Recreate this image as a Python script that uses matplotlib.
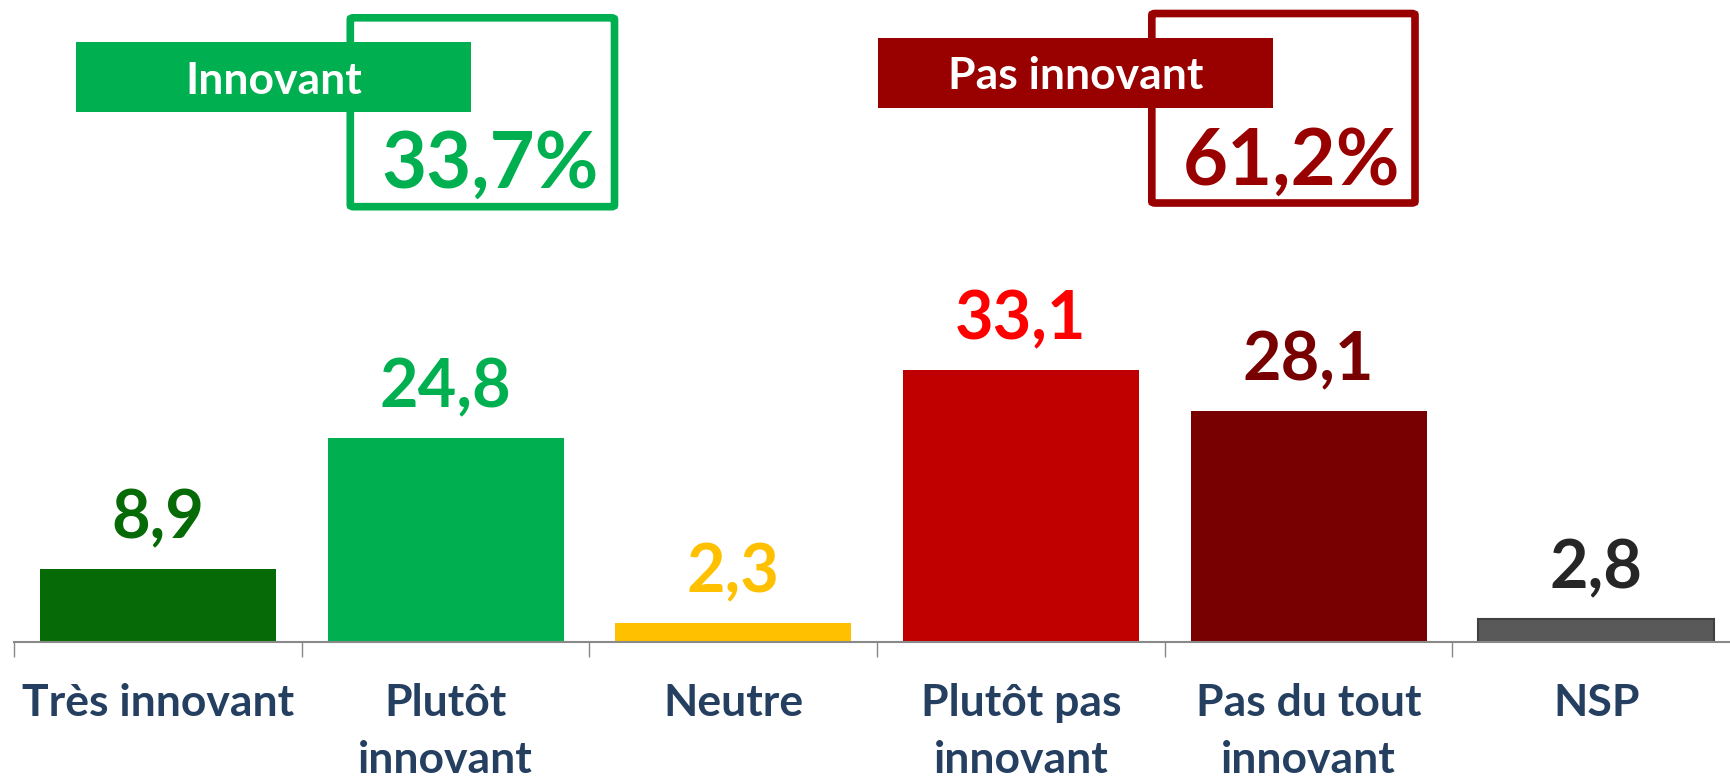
import matplotlib
matplotlib.use("Agg")
import matplotlib.pyplot as plt
from matplotlib.patches import Rectangle, FancyBboxPatch

# data
categories = ["Très innovant", "Plutôt\ninnovant", "Neutre",
              "Plutôt pas\ninnovant", "Pas du tout\ninnovant", "NSP"]
values = [8.9, 24.8, 2.3, 33.1, 28.1, 2.8]
value_labels = ["8,9", "24,8", "2,3", "33,1", "28,1", "2,8"]
bar_colors = ["#066A06", "#00B050", "#FFC000", "#C00000", "#780000", "#595959"]
label_colors = ["#066A06", "#00B050", "#FFC000", "#FF0000", "#780000", "#262626"]
innovant = values[0] + values[1]
pas_innovant = values[3] + values[4]

W, H = 1731, 781
plt.rcParams['font.family'] = ['Lato', 'DejaVu Sans']
plt.rcParams['font.weight'] = 'bold'

fig = plt.figure(figsize=(W / 100, H / 100), dpi=100)
ax = fig.add_axes([14 / W, (H - 641.7) / H, 6 * 287.7 / W, 641.7 / H])

x = range(len(values))
bars = ax.bar(x, values, width=0.82, color=bar_colors, zorder=2)
bars[5].set_edgecolor("#404040")
bars[5].set_linewidth(1.5)

for i, v in enumerate(values):
    ax.annotate(value_labels[i], (i, v), xytext=(0, 22), textcoords='offset points',
                ha='center', va='baseline', fontsize=48, fontweight='bold',
                color=label_colors[i])

ax.set_xlim(-0.5, 5.5)
ax.set_ylim(0, 641.7 / 8.2)
for s in ['top', 'right', 'left']:
    ax.spines[s].set_visible(False)
ax.spines['bottom'].set_color('#898989')
ax.spines['bottom'].set_linewidth(1.5)
ax.set_yticks([])
ax.set_xticks(list(x))
ax.set_xticklabels(categories, fontsize=32, fontweight='bold', color='#253F61',
                   linespacing=1.5)
ax.tick_params(axis='x', which='major', length=0, pad=30)
ax.set_xticks([i - 0.5 for i in range(len(values) + 1)], minor=True)
ax.tick_params(axis='x', which='minor', length=10.8, width=1, color='#898989')


def fx(px):
    return px / W


def fy(py):
    return 1 - py / H


def summary_box(color, outline, filled, title, title_base, pct, pct_pos):
    x0, y0, x1, y1 = outline
    fig.add_artist(FancyBboxPatch((fx(x0), fy(y1)), fx(x1 - x0), (y1 - y0) / H,
                                  boxstyle="round,pad=0,rounding_size=0.002",
                                  transform=fig.transFigure, fill=False,
                                  edgecolor=color, linewidth=5.5))
    a0, b0, a1, b1 = filled
    fig.add_artist(Rectangle((fx(a0), fy(b1)), fx(a1 - a0), (b1 - b0) / H,
                             transform=fig.transFigure, facecolor=color,
                             edgecolor='none'))
    fig.text(fx((a0 + a1) / 2), fy(title_base), title, ha='center', va='baseline',
             color='white', fontsize=32, fontweight='bold')
    fig.text(fx(pct_pos[0]), fy(pct_pos[1]), pct, ha='right', va='baseline',
             color=color, fontsize=56, fontweight='bold')


summary_box("#00B050", (350.3, 17.8, 614.5, 206.7), (76, 42, 471, 111.7),
            "Innovant", 94.3, f"{innovant:.1f}%".replace('.', ','), (599, 187.3))
summary_box("#990000", (1151.8, 13.5, 1415, 203), (878, 38, 1273, 107.7),
            "Pas innovant", 89.3, f"{pas_innovant:.1f}%".replace('.', ','), (1400, 185))

fig.savefig("out.png", dpi=100)
